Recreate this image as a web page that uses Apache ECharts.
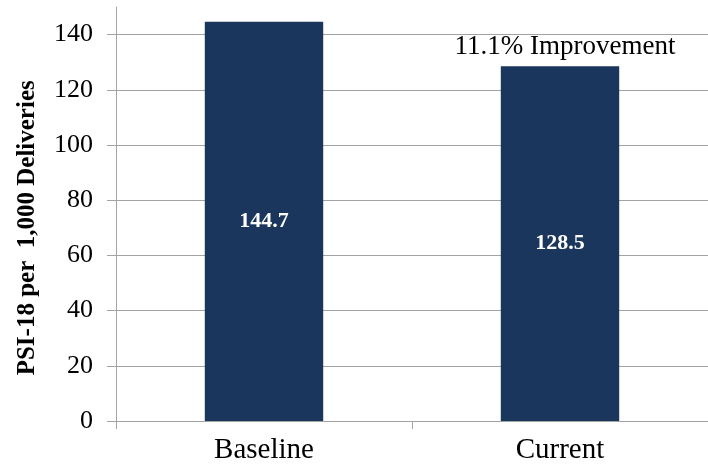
<!DOCTYPE html>
<html>
<head>
<meta charset="utf-8">
<script src="https://cdn.jsdelivr.net/npm/echarts@6/dist/echarts.min.js"></script>
<style>
  html, body { margin: 0; padding: 0; background: #fff; }
  #chart { width: 708px; height: 468px; }
</style>
</head>
<body>
<div id="chart"></div>
<script>
// PSI-18 rate, baseline vs current period
const categories = ['Baseline', 'Current'];
const rates = [144.7, 128.5];
const yTicksMax = 140;      // last labelled tick
const yScaleMax = 150;      // top of the value scale
const tickStep = 20;
const improvementText = '11.1% Improvement';

const FONT = 'Liberation Serif';
const GRID_GREY = '#a3a3a3';
const BAR_BLUE = '#1a365d';

// Two stacked grids share the same bottom and left edge: the outer one holds the bars
// and the full-height axis line; the inner one carries the labelled ticks and grid lines.
const plotTop = 7, plotBottom = 47, plotLeft = 116, chartH = 468;
const plotH = chartH - plotTop - plotBottom;
const innerTop = plotTop + (yScaleMax - yTicksMax) / yScaleMax * plotH;

const chart = echarts.init(document.getElementById('chart'), null, { renderer: 'canvas' });

chart.setOption({
  animation: false,
  backgroundColor: '#ffffff',
  grid: [
    { left: plotLeft, right: 0, top: plotTop, bottom: plotBottom, containLabel: false },
    { left: plotLeft, right: 0, top: innerTop, bottom: plotBottom, containLabel: false }
  ],
  xAxis: [
    {
      gridIndex: 0,
      type: 'category',
      data: categories,
      boundaryGap: true,
      axisLine: { show: true, lineStyle: { color: GRID_GREY, width: 1 } },
      axisTick: { show: true, length: 8, lineStyle: { color: GRID_GREY } },
      axisLabel: { color: '#000', fontFamily: FONT, fontSize: 29, margin: 15 },
      splitLine: { show: false }
    },
    {
      gridIndex: 1,
      type: 'category',
      data: categories,
      show: false
    }
  ],
  yAxis: [
    {
      gridIndex: 0,
      type: 'value',
      min: 0,
      max: yScaleMax,
      axisLine: { show: true, lineStyle: { color: GRID_GREY, width: 1 } },
      axisTick: { show: false },
      axisLabel: { show: false },
      splitLine: { show: false }
    },
    {
      gridIndex: 1,
      type: 'value',
      min: 0,
      max: yTicksMax,
      interval: tickStep,
      name: 'PSI-18 per  1,000 Deliveries',
      nameLocation: 'middle',
      nameGap: 76,
      nameTextStyle: { color: '#000', fontFamily: FONT, fontSize: 25, fontWeight: 'bold' },
      axisLine: { show: false },
      axisTick: { show: true, inside: false, length: 9, lineStyle: { color: GRID_GREY } },
      axisLabel: { color: '#000', fontFamily: FONT, fontSize: 26, margin: 23 },
      splitLine: { show: true, lineStyle: { color: GRID_GREY, width: 1 } }
    }
  ],
  series: [
    {
      type: 'bar',
      xAxisIndex: 0,
      yAxisIndex: 0,
      data: rates,
      barWidth: '40%',
      itemStyle: { color: BAR_BLUE },
      label: {
        show: true,
        position: 'inside',
        color: '#ffffff',
        fontFamily: FONT,
        fontSize: 22,
        fontWeight: 'bold',
        formatter: (p) => p.value.toFixed(1)
      },
      markPoint: {
        symbol: 'rect',
        symbolSize: 0,
        silent: true,
        data: [
          {
            coord: [categories[1], rates[1]],
            label: {
              show: true,
              position: 'inside',
              offset: [5, -19],
              color: '#000',
              fontFamily: FONT,
              fontSize: 27,
              formatter: improvementText
            }
          }
        ]
      },
      z: 3
    }
  ]
});
</script>
</body>
</html>
